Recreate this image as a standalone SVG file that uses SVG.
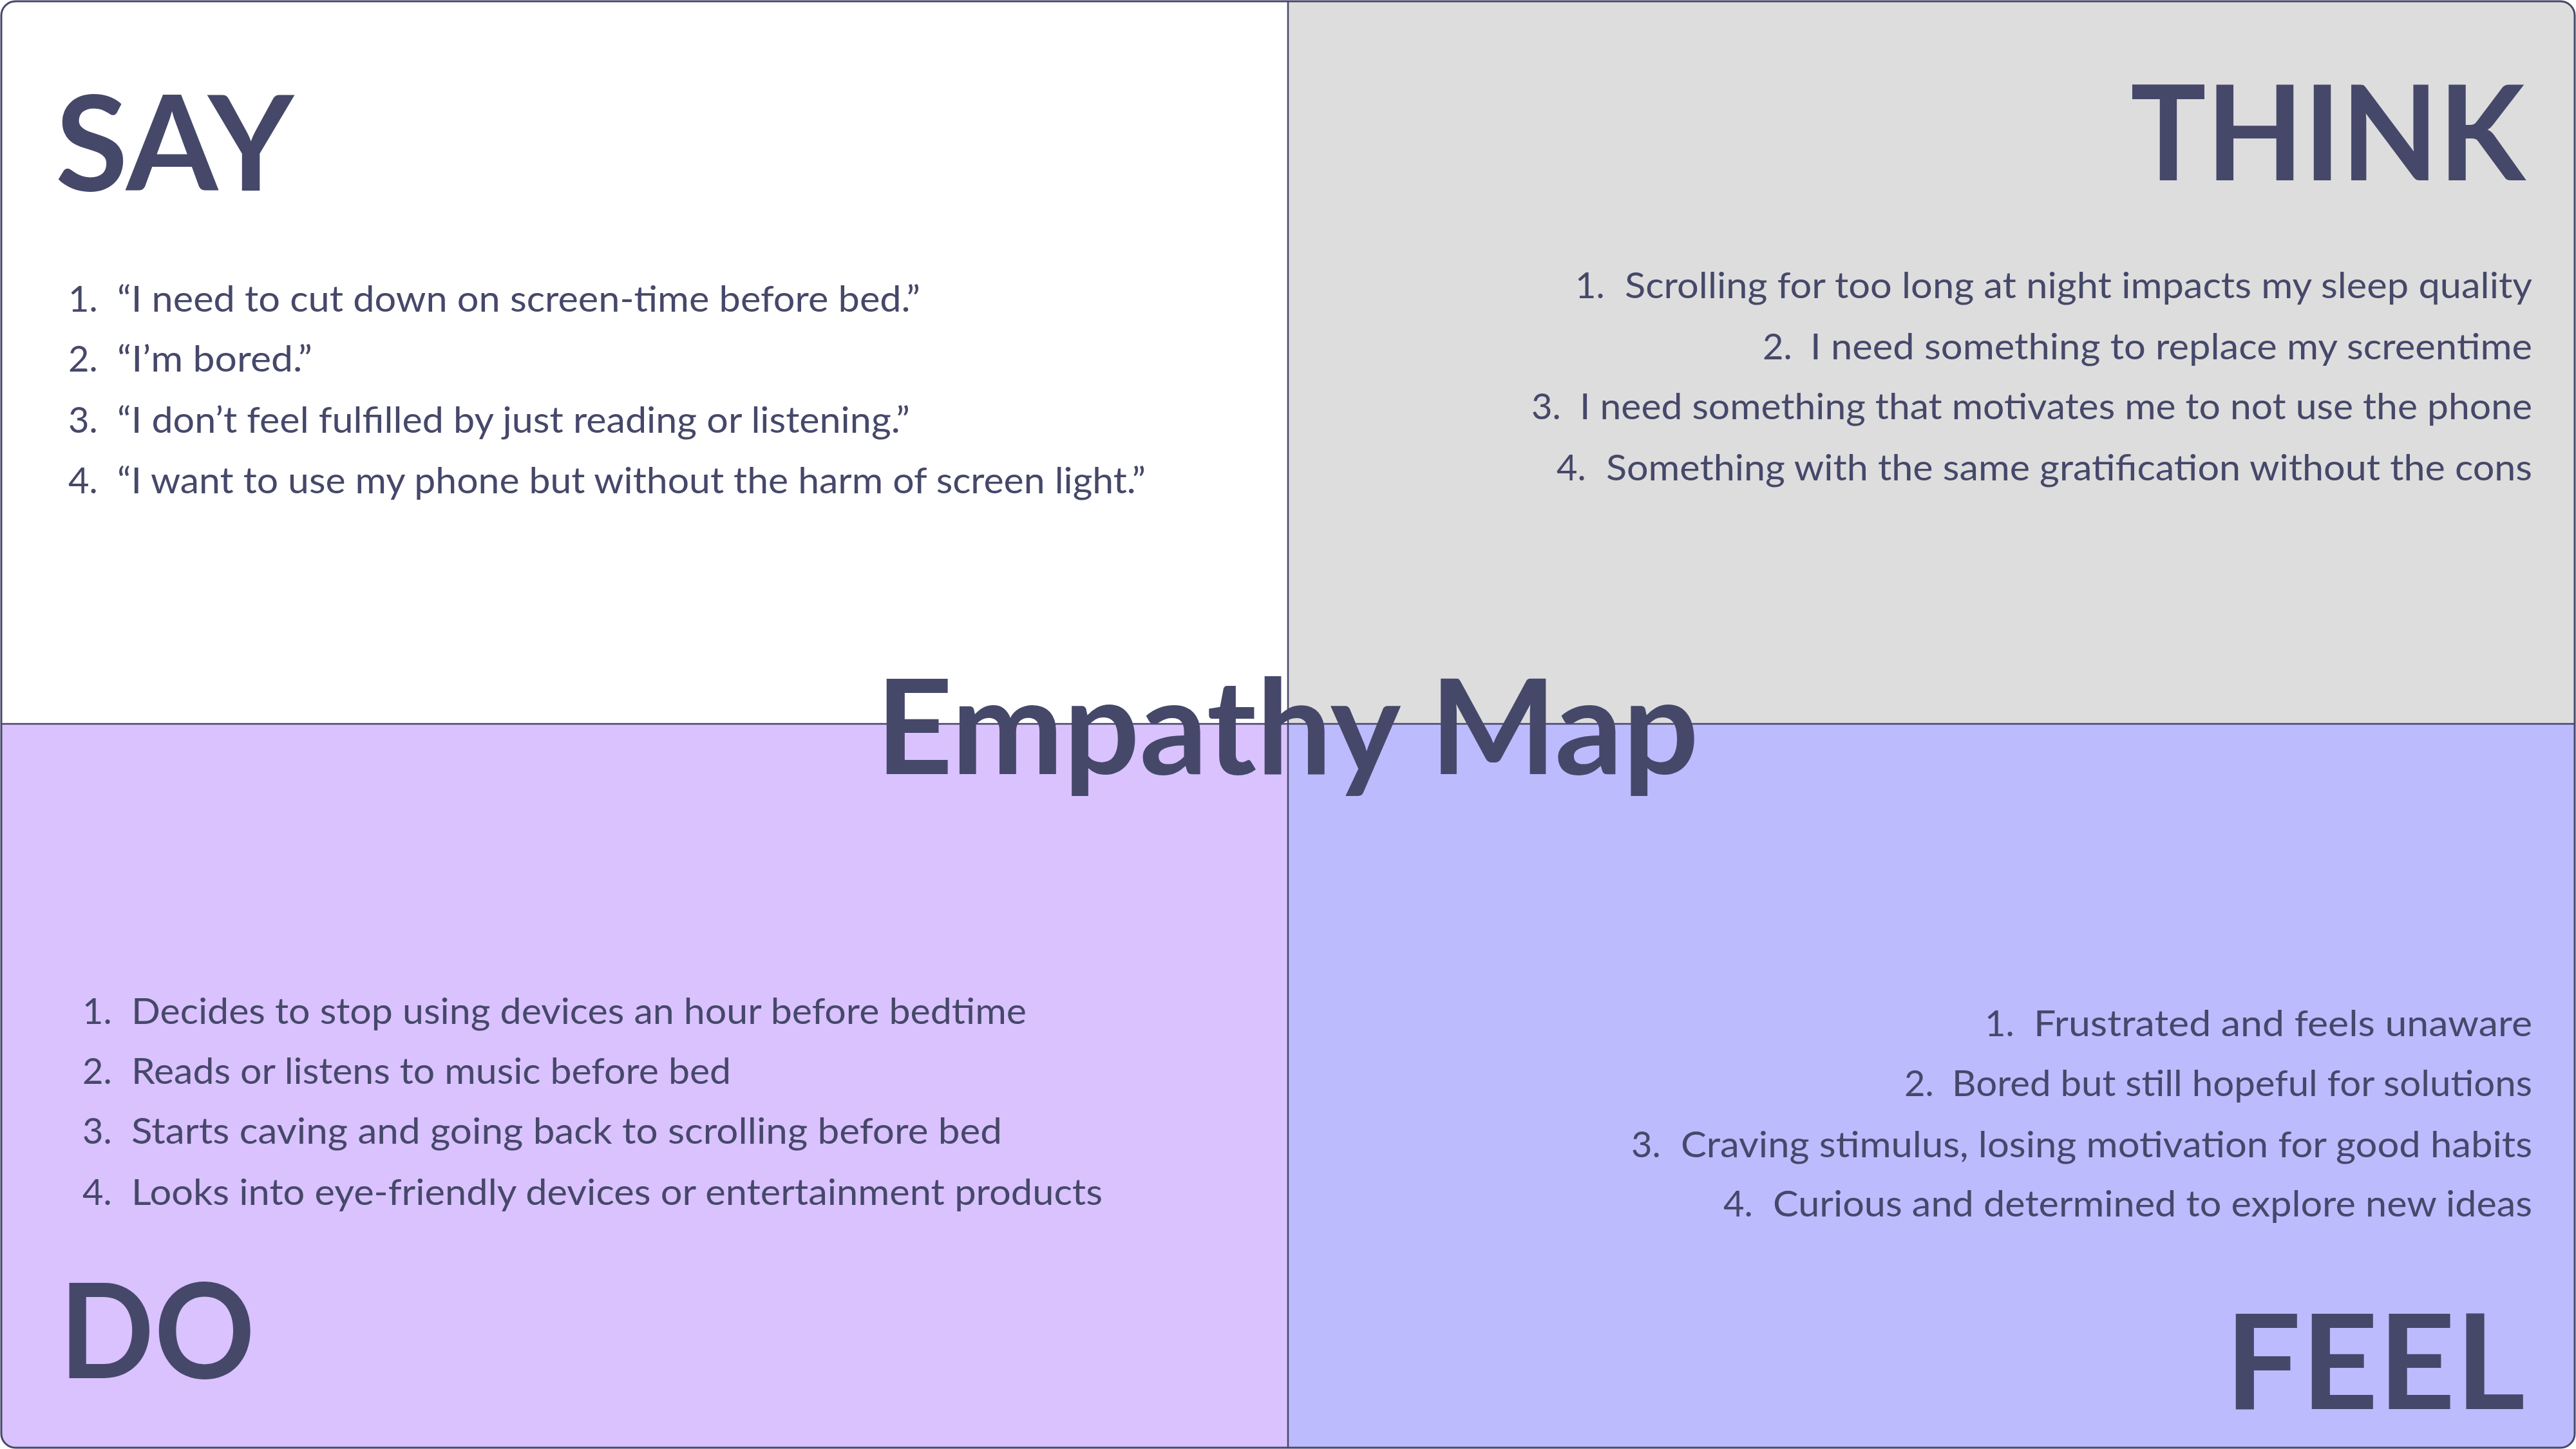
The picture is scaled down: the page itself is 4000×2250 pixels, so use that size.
<svg xmlns="http://www.w3.org/2000/svg" width="4000" height="2250" viewBox="0 0 4000 2250">
<defs>
<clipPath id="frame"><rect x="2" y="2" width="3996" height="2246" rx="22" ry="22"/></clipPath>
<style>
.h{font-family:Lato,"Open Sans","Liberation Sans",sans-serif;font-weight:700;font-size:206px;fill:#46486a}
.b{font-family:Lato,"Open Sans","Liberation Sans",sans-serif;font-weight:400;font-size:56px;fill:#46486a}
.div{stroke:#46486a;stroke-width:2.5;fill:none}
</style>
</defs>
<rect width="4000" height="2250" fill="#ffffff"/>
<g clip-path="url(#frame)">
<rect x="0" y="0" width="2000" height="1124" fill="#ffffff"/>
<rect x="2000" y="0" width="2000" height="1124" fill="#dddddd"/>
<rect x="0" y="1124" width="2000" height="1126" fill="#d9c2fd"/>
<rect x="2000" y="1124" width="2000" height="1126" fill="#bcbbfd"/>
</g>
<g id="dividers">
<line class="div" x1="2000" y1="2" x2="2000" y2="2248"/>
<line class="div" x1="2" y1="1124" x2="3998" y2="1124"/>
</g>
<rect x="2" y="2" width="3996" height="2246" rx="22" ry="22" fill="none" stroke="#46486a" stroke-width="3"/>

<g id="say">
<text class="h" x="86" y="296" textLength="370" lengthAdjust="spacingAndGlyphs">SAY</text>
<text class="b" x="106" y="484">1.</text>
<text class="b" x="182" y="484" textLength="1247" lengthAdjust="spacingAndGlyphs">“I need to cut down on screen-time before bed.”</text>
<text class="b" x="106" y="577">2.</text>
<text class="b" x="182" y="577" textLength="303" lengthAdjust="spacingAndGlyphs">“I’m bored.”</text>
<text class="b" x="106" y="672">3.</text>
<text class="b" x="182" y="672" textLength="1231" lengthAdjust="spacingAndGlyphs">“I don’t feel fulfilled by just reading or listening.”</text>
<text class="b" x="106" y="766">4.</text>
<text class="b" x="182" y="766" textLength="1597" lengthAdjust="spacingAndGlyphs">“I want to use my phone but without the harm of screen light.”</text>
</g>

<g id="think">
<text class="h" x="3308" y="280" textLength="613" lengthAdjust="spacingAndGlyphs">THINK</text>
<text class="b" x="2446" y="463">1.</text>
<text class="b" x="2523" y="463" textLength="1409" lengthAdjust="spacingAndGlyphs">Scrolling for too long at night impacts my sleep quality</text>
<text class="b" x="2737" y="558">2.</text>
<text class="b" x="2811" y="558" textLength="1121" lengthAdjust="spacingAndGlyphs">I need something to replace my screentime</text>
<text class="b" x="2378" y="651">3.</text>
<text class="b" x="2453" y="651" textLength="1479" lengthAdjust="spacingAndGlyphs">I need something that motivates me to not use the phone</text>
<text class="b" x="2417" y="746">4.</text>
<text class="b" x="2494" y="746" textLength="1438" lengthAdjust="spacingAndGlyphs">Something with the same gratification without the cons</text>
</g>

<g id="do">
<text class="h" x="92" y="2140" textLength="304" lengthAdjust="spacingAndGlyphs">DO</text>
<text class="b" x="128" y="1590">1.</text>
<text class="b" x="204" y="1590" textLength="1390" lengthAdjust="spacingAndGlyphs">Decides to stop using devices an hour before bedtime</text>
<text class="b" x="128" y="1683">2.</text>
<text class="b" x="204" y="1683" textLength="931" lengthAdjust="spacingAndGlyphs">Reads or listens to music before bed</text>
<text class="b" x="128" y="1776">3.</text>
<text class="b" x="204" y="1776" textLength="1352" lengthAdjust="spacingAndGlyphs">Starts caving and going back to scrolling before bed</text>
<text class="b" x="128" y="1871">4.</text>
<text class="b" x="204" y="1871" textLength="1508" lengthAdjust="spacingAndGlyphs">Looks into eye-friendly devices or entertainment products</text>
</g>

<g id="feel">
<text class="h" x="3455" y="2188" textLength="466" lengthAdjust="spacingAndGlyphs">FEEL</text>
<text class="b" x="3082" y="1609">1.</text>
<text class="b" x="3158" y="1609" textLength="774" lengthAdjust="spacingAndGlyphs">Frustrated and feels unaware</text>
<text class="b" x="2957" y="1702">2.</text>
<text class="b" x="3031" y="1702" textLength="901" lengthAdjust="spacingAndGlyphs">Bored but still hopeful for solutions</text>
<text class="b" x="2533" y="1797">3.</text>
<text class="b" x="2610" y="1797" textLength="1322" lengthAdjust="spacingAndGlyphs">Craving stimulus, losing motivation for good habits</text>
<text class="b" x="2676" y="1889">4.</text>
<text class="b" x="2753" y="1889" textLength="1179" lengthAdjust="spacingAndGlyphs">Curious and determined to explore new ideas</text>
</g>

<g id="title">
<text class="h" x="1360" y="1202" textLength="1278" lengthAdjust="spacingAndGlyphs">Empathy Map</text>
</g>
</svg>
